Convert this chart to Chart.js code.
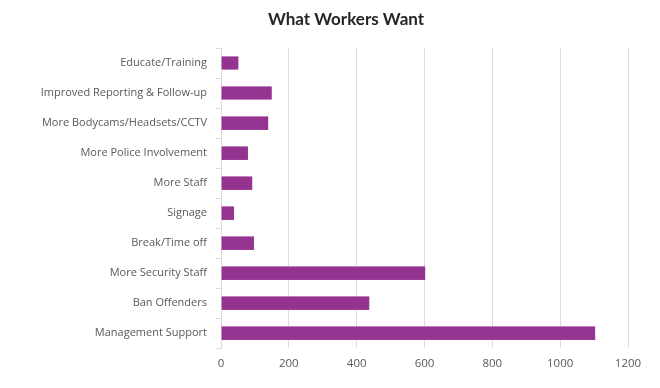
<!DOCTYPE html>
<html>
<head>
<meta charset="utf-8">
<script src="https://cdn.jsdelivr.net/npm/chart.js@4"></script>
<style>
  html, body { margin: 0; padding: 0; background: #fff; }
  #wrap { width: 660px; height: 388px; }
</style>
</head>
<body>
<div id="wrap"><canvas id="chart"></canvas></div>
<script>
// Survey answers, top to bottom as shown
const categories = [
    'Educate/Training',
    'Improved Reporting & Follow-up',
    'More Bodycams/Headsets/CCTV',
    'More Police Involvement',
    'More Staff',
    'Signage',
    'Break/Time off',
    'More Security Staff',
    'Ban Offenders',
    'Management Support'
];
const responses = [51, 149, 139, 79, 92, 38, 97, 602, 437, 1103];
const xTicks = [0, 200, 400, 600, 800, 1000, 1200];
const chartTitle = 'What Workers Want';

const gridColor = '#dcdcdc';
const labelColor = '#595959';

// Title drawn by hand: it sits a bit right of the canvas centre
const titlePlugin = {
    id: 'offsetTitle',
    afterDraw(chart) {
        const ctx = chart.ctx;
        ctx.save();
        ctx.font = 'bold 17px Lato';
        ctx.fillStyle = '#262626';
        ctx.textAlign = 'center';
        ctx.textBaseline = 'middle';
        ctx.fillText(chartTitle, (chart.width + 32) / 2, 20);
        ctx.restore();
    }
};

new Chart(document.getElementById('chart'), {
    type: 'bar',
    data: {
        labels: categories,
        datasets: [{
            label: 'Responses',
            data: responses,
            backgroundColor: '#943390',
            borderColor: '#a54aa0',
            borderWidth: 0.5,
            barThickness: 13
        }]
    },
    options: {
        indexAxis: 'y',
        responsive: true,
        maintainAspectRatio: false,
        animation: false,
        layout: {
            padding: { left: 20, right: 32, top: 48, bottom: 8 }
        },
        scales: {
            x: {
                min: xTicks[0],
                max: xTicks[xTicks.length - 1],
                afterBuildTicks: (scale) => {
                    scale.ticks = xTicks.map(v => ({ value: v }));
                },
                grid: {
                    color: gridColor,
                    drawTicks: false
                },
                border: { display: false },
                ticks: {
                    color: labelColor,
                    padding: 9,
                    callback: (v) => String(v),
                    font: { family: 'Open Sans', size: 11.5 }
                }
            },
            y: {
                afterFit: (scale) => { scale.width = 201; },
                grid: {
                    drawOnChartArea: false,
                    color: gridColor,
                    tickLength: 5
                },
                border: { color: gridColor },
                ticks: {
                    color: labelColor,
                    padding: 9,
                    font: { family: 'Open Sans', size: 11 }
                }
            }
        },
        plugins: {
            legend: { display: false },
            tooltip: { enabled: false },
            title: { display: false }
        }
    },
    plugins: [titlePlugin]
});
</script>
</body>
</html>
